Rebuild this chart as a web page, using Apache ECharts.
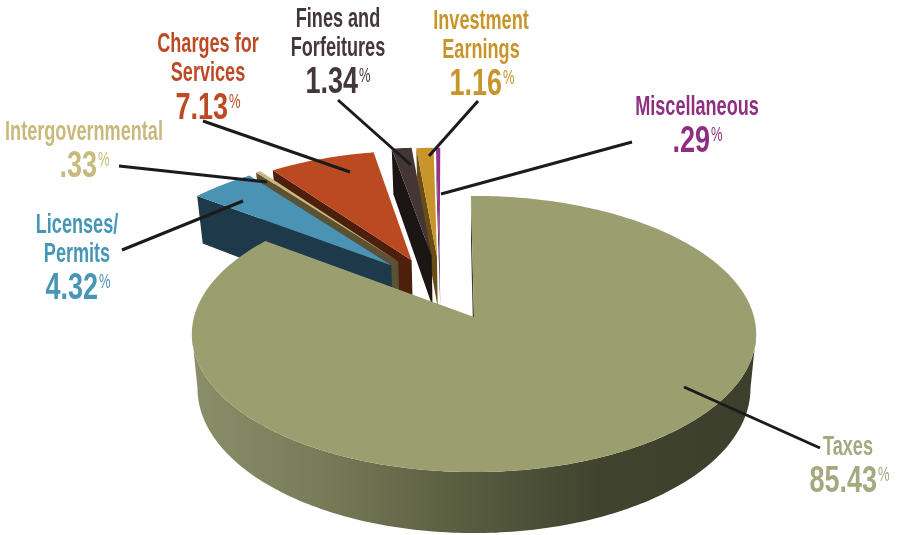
<!DOCTYPE html>
<html>
<head>
<meta charset="utf-8">
<style>
  html, body { margin: 0; padding: 0; background: #fff; }
  #chart { width: 899px; height: 535px; }
</style>
<script src="https://cdn.jsdelivr.net/npm/echarts@6/dist/echarts.min.js"></script>
</head>
<body>
<div id="chart"></div>
<script>
  // clockwise from twelve o'clock
  const categories = ['Taxes', 'Licenses/\nPermits', 'Intergovernmental', 'Charges for\nServices', 'Fines and\nForfeitures', 'Investment\nEarnings', 'Miscellaneous']
  const values = [85.43, 4.32, 0.33, 7.13, 1.34, 1.16, 0.29]
  const valueLabels = ['85.43', '4.32', '.33', '7.13', '1.34', '1.16', '.29']

  // how far each slice is pulled out of the pie, in pie radii [sideways, backwards]
  const pulls = [[0, 0], [-0.31, 0.4], [-0.285, 0.43], [-0.235, 0.44], [-0.16, 0.475], [-0.14, 0.47], [-0.13, 0.47]]
  const topColors = ['#9b9f70', '#4a93b4', '#c9b97c', '#bb4a22', '#433635', '#c8952a', '#92348a']
  const wallColors = ['#3c3f2b', '#1e3a4a', '#5a5234', '#4e1f0c', '#1b1513', '#6a4d15', '#4e1a4a']
  const labelColors = ['#a5a97f', '#4796b7', '#c9b97c', '#bc4a24', '#43373a', '#c8952a', '#8e2f82']

  // label layout: centre of the name, first name baseline, right edge and baseline of the number
  const labelPos = [
    { x: 848, y: 456, numX: 877, numY: 493 },
    { x: 77, y: 234, numX: 98, numY: 300 },
    { x: 84, y: 141, numX: 97, numY: 178 },
    { x: 208, y: 53, numX: 228, numY: 120 },
    { x: 338, y: 28, numX: 358, numY: 94 },
    { x: 481, y: 30, numX: 502, numY: 96 },
    { x: 697, y: 116, numX: 710, numY: 153 },
  ]
  const leaders = [
    [[684, 387], [820, 448]],
    [[243, 201], [122, 250]],
    [[267, 182], [119, 166]],
    [[350, 172], [203, 121]],
    [[411, 165], [338, 100]],
    [[429, 156], [478, 101]],
    [[441, 194], [632, 142]],
  ]

  const cx = 474
  const cy = 317
  const rx = 280
  const ry = 136
  const persp = 0.123
  const depth = 53.5
  const startAngle = -0.7

  function project(u, v, bottom) {
    const w = 1 + persp * v
    const sx = bottom ? 0.98 : 1
    return [cx + (rx * sx * u) / w, cy - (ry * v) / w + (bottom ? depth / w : 0)]
  }

  function onRim(deg, pull, bottom) {
    const a = (deg * Math.PI) / 180
    return project(Math.sin(a) + pull[0], Math.cos(a) + pull[1], bottom)
  }

  function arc(a0, a1, pull, bottom) {
    const pts = []
    const n = Math.max(2, Math.ceil(Math.abs(a1 - a0)))
    for (let k = 0; k <= n; k++) {
      pts.push(onRim(a0 + ((a1 - a0) * k) / n, pull, bottom))
    }
    return pts
  }

  function renderSlice(params, api) {
    const i = api.value(1)
    let a0 = startAngle
    for (let k = 0; k < i; k++) {
      a0 += (values[k] / 100) * 360
    }
    const a1 = a0 + (api.value(0) / 100) * 360
    const pull = pulls[i]
    const apexTop = project(pull[0], pull[1], false)
    const apexBottom = project(pull[0], pull[1], true)
    const children = []

    // the cut wall on the counter-clockwise side faces the viewer
    children.push({
      type: 'polygon',
      shape: { points: [onRim(a0, pull, false), apexTop, apexBottom, onRim(a0, pull, true)] },
      style: { fill: wallColors[i] },
    })
    if (i === 0) {
      // rim of the big slice, from one widest point round the front to the other
      children.push({
        type: 'polygon',
        shape: { points: arc(97, 263, pull, false).concat(arc(97, 263, pull, true).reverse()) },
        style: {
          fill: new echarts.graphic.LinearGradient(0, 0, 1, 0, [
            { offset: 0, color: '#8a8e69' },
            { offset: 0.24, color: '#767a57' },
            { offset: 0.51, color: '#565a3e' },
            { offset: 0.72, color: '#40432e' },
            { offset: 1, color: wallColors[0] },
          ]),
        },
      })
    }
    children.push({
      type: 'polygon',
      shape: { points: [apexTop].concat(arc(a0, a1, pull, false)) },
      style: { fill: topColors[i] },
    })
    return { type: 'group', children: children }
  }

  // back slices first so the ones nearer the viewer cover them
  const drawOrder = [6, 5, 4, 3, 2, 1, 0]

  function labelText(text, x, y, size, color, align, scaleX, weight) {
    return {
      type: 'text',
      x: x,
      y: y,
      scaleX: scaleX,
      silent: true,
      style: {
        text: text,
        x: 0,
        y: 0,
        fill: color,
        align: align,
        verticalAlign: 'middle',
        font: weight + ' ' + size + 'px "Liberation Sans", sans-serif',
      },
    }
  }

  const graphics = []
  categories.forEach((name, i) => {
    const pos = labelPos[i]
    const color = labelColors[i]
    name.split('\n').forEach((line, k) => {
      graphics.push(labelText(line, pos.x, pos.y + k * 29 - 8, 27, color, 'center', 0.67, 'bold'))
    })
    graphics.push(labelText(valueLabels[i], pos.numX, pos.numY - 11, 37, color, 'right', 0.73, 'bold'))
    graphics.push(labelText('%', pos.numX + 1, pos.numY - 18, 21, color, 'left', 0.62, 'normal'))
    graphics.push({
      type: 'line',
      silent: true,
      shape: { x1: leaders[i][0][0], y1: leaders[i][0][1], x2: leaders[i][1][0], y2: leaders[i][1][1] },
      style: { stroke: '#1c1a1a', lineWidth: 3 },
      z: 50,
    })
  })

  const chart = echarts.init(document.getElementById('chart'), null, { renderer: 'canvas' })
  chart.setOption({
    animation: false,
    backgroundColor: '#fff',
    graphic: { elements: graphics },
    series: [
      {
        type: 'custom',
        coordinateSystem: 'none',
        silent: true,
        renderItem: renderSlice,
        data: drawOrder.map((i) => [values[i], i]),
        encode: { value: [0, 1] },
      },
    ],
  })
</script>
</body>
</html>
